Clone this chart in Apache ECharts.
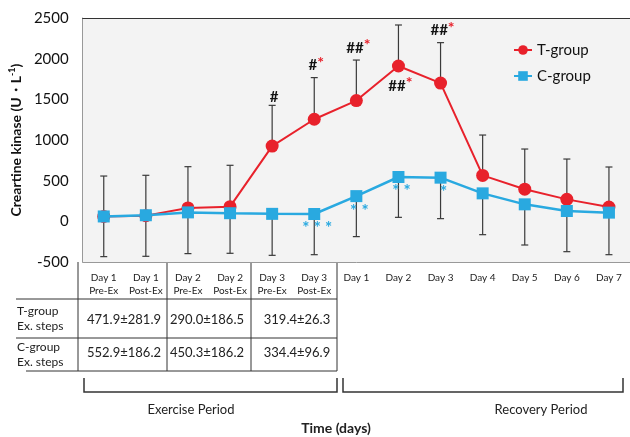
<!DOCTYPE html>
<html>
<head>
<meta charset="utf-8">
<script src="https://cdn.jsdelivr.net/npm/echarts@6/dist/echarts.min.js"></script>
<style>
  html, body { margin: 0; padding: 0; background: #fff; }
  #chart { width: 630px; height: 437px; }
</style>
</head>
<body>
<div id="chart"></div>
<script>
// categories on the time axis
var categories = ['Day 1\nPre-Ex', 'Day 1\nPost-Ex', 'Day 2\nPre-Ex', 'Day 2\nPost-Ex', 'Day 3\nPre-Ex', 'Day 3\nPost-Ex',
    'Day 1', 'Day 2', 'Day 3', 'Day 4', 'Day 5', 'Day 6', 'Day 7'];
var yTicks = [-500, 0, 500, 1000, 1500, 2000, 2500];

// creatine kinase, mean and error bar ends (T up, C down)
var tMean  = [60, 70, 165, 180, 925, 1255, 1485, 1910, 1700, 565, 395, 270, 175];
var tUpper = [557, 566, 672, 689, 1426, 1767, 1983, 2414, 2197, 1061, 889, 766, 668];
var cMean  = [60, 75, 110, 100, 92, 90, 310, 545, 537, 344, 209, 127, 107];
var cLower = [-434, -430, -397, -393, -418, -410, -188, 49, 33, -164, -291, -373, -410];

// significance marks
var tSigAbove = ['', '', '', '', '#', '#*', '##*', '', '##*', '', '', '', ''];
var tSigBelow = ['', '', '', '', '', '', '', '##*', '', '', '', '', ''];
var cSig      = ['', '', '', '', '', '***', '**', '**', '*', '', '', '', ''];

// exercise steps table
var tSteps = ['471.9±281.9', '290.0±186.5', '319.4±26.3'];
var cSteps = ['552.9±186.2', '450.3±186.2', '334.4±96.9'];

var FONT = 'Lato, "Noto Sans", sans-serif';
var RED = '#e8212b';
var BLUE = '#29a9e0';
var INK = '#333';

function sigText(s) {
    var h = s.replace(/\*/g, '');
    var st = s.replace(/#/g, '');
    var out = '';
    if (h) out += '{h|' + h + '}';
    if (st) out += '{s|' + st + '}';
    return out;
}
var sigRich = {
    h: { fill: '#111', fontSize: 15, fontWeight: 'bold', fontFamily: FONT },
    s: { fill: RED, fontSize: 16, fontWeight: 'bold', fontFamily: FONT, verticalAlign: 'top', padding: [0, 0, 6, 0] }
};

function renderBars(params, api) {
    var i = params.dataIndex;
    var pT = api.coord([i, tMean[i]]);
    var pTh = api.coord([i, tUpper[i]]);
    var pC = api.coord([i, cMean[i]]);
    var pCl = api.coord([i, cLower[i]]);
    var cap = 3.5;
    var st = { stroke: '#3a3a3a', lineWidth: 1.2 };
    var kids = [
        { type: 'line', shape: { x1: pT[0], y1: pT[1], x2: pTh[0], y2: pTh[1] }, style: st },
        { type: 'line', shape: { x1: pTh[0] - cap, y1: pTh[1], x2: pTh[0] + cap, y2: pTh[1] }, style: st },
        { type: 'line', shape: { x1: pC[0], y1: pC[1], x2: pCl[0], y2: pCl[1] }, style: st },
        { type: 'line', shape: { x1: pCl[0] - cap, y1: pCl[1], x2: pCl[0] + cap, y2: pCl[1] }, style: st }
    ];
    if (tSigAbove[i]) {
        kids.push({ type: 'text', x: pTh[0] + 2, y: pTh[1] - 1, z2: 10,
            style: { text: sigText(tSigAbove[i]), rich: sigRich, align: 'center', verticalAlign: 'bottom' } });
    }
    if (tSigBelow[i]) {
        kids.push({ type: 'text', x: pT[0] + 2, y: pT[1] + 9, z2: 10,
            style: { text: sigText(tSigBelow[i]), rich: sigRich, align: 'center', verticalAlign: 'top' } });
    }
    if (cSig[i]) {
        kids.push({ type: 'text', x: pC[0] + 3, y: pC[1] + 15, z2: 10,
            style: { text: cSig[i].split('').join(' '), fill: BLUE, font: 'bold 17px ' + FONT, align: 'center', verticalAlign: 'middle' } });
    }
    return { type: 'group', children: kids };
}

var chart = echarts.init(document.getElementById('chart'));

// table + brackets under the axis
var graphics = [];
function hline(x1, x2, y) {
    graphics.push({ type: 'line', shape: { x1: x1, y1: y, x2: x2, y2: y }, style: { stroke: INK, lineWidth: 1 } });
}
function vline(x, y1, y2) {
    graphics.push({ type: 'line', shape: { x1: x, y1: y1, x2: x, y2: y2 }, style: { stroke: INK, lineWidth: 1 } });
}
function txt(x, y, s, font, align) {
    graphics.push({ type: 'text', x: x, y: y, style: { text: s, font: font, fill: '#222', align: align || 'center', verticalAlign: 'middle' } });
}
[78, 167, 251, 337].forEach(function (x) { vline(x, 262, 371); });
hline(16, 337, 299);
hline(16, 337, 338);
hline(26, 337, 371);
var colX = [124, 207, 297];
for (var k = 0; k < colX.length; k++) {
    txt(colX[k], 320, tSteps[k], '13px ' + FONT);
    txt(colX[k], 353, cSteps[k], '13px ' + FONT);
}
txt(17, 311, 'T-group', '12px ' + FONT, 'left');
txt(17, 326, 'Ex. steps', '12px ' + FONT, 'left');
txt(17, 347, 'C-group', '12px ' + FONT, 'left');
txt(17, 362, 'Ex. steps', '12px ' + FONT, 'left');
graphics.push({ type: 'polyline', shape: { points: [[84, 378], [84, 392], [337, 392], [337, 378]] }, style: { stroke: INK, lineWidth: 1.5, fill: null } });
graphics.push({ type: 'polyline', shape: { points: [[343, 378], [343, 392], [623, 392], [623, 378]] }, style: { stroke: INK, lineWidth: 1.5, fill: null } });
txt(191, 410, 'Exercise Period', '13px ' + FONT);
txt(541, 410, 'Recovery Period', '13px ' + FONT);
txt(336, 428, 'Time (days)', 'bold 14px ' + FONT);

var option = {
    backgroundColor: '#fff',
    animation: false,
    textStyle: { fontFamily: FONT },
    grid: { left: 78, right: 0, top: 18, bottom: 175, show: true, backgroundColor: '#f3f3f3', borderWidth: 0 },
    legend: {
        orient: 'vertical', left: 508, top: 36, itemWidth: 18, itemHeight: 12, itemGap: 8,
        textStyle: { fontSize: 15, color: '#111', lineHeight: 18, fontFamily: FONT },
        data: ['T-group', 'C-group']
    },
    xAxis: [{
        type: 'category', data: categories,
        axisLine: { onZero: false, lineStyle: { color: '#999' } },
        axisTick: { show: false },
        axisLabel: { fontSize: 10, color: '#222', margin: 9, lineHeight: 13, interval: 0, verticalAlign: 'top' }
    }, {
        type: 'category', data: categories, position: 'top',
        axisLine: { onZero: false, lineStyle: { color: '#333', width: 1.2 } },
        axisTick: { show: false }, axisLabel: { show: false }
    }],
    yAxis: {
        type: 'value', min: yTicks[0], max: yTicks[yTicks.length - 1], interval: 500,
        axisLine: { show: true, lineStyle: { color: '#999' } },
        axisTick: { show: false },
        splitLine: { show: false },
        axisLabel: { fontSize: 15, color: '#111', margin: 14, formatter: function (v) { return String(v); } },
        name: '{n|Creartine kinase (U・L}{sup|-1}{n|)}',
        nameLocation: 'middle', nameGap: 53, nameRotate: 90,
        nameTextStyle: {
            rich: {
                n: { fontSize: 14, fontWeight: 'bold', color: '#111', fontFamily: FONT },
                sup: { fontSize: 9, fontWeight: 'bold', color: '#111', fontFamily: FONT, verticalAlign: 'top', padding: [0, 0, 7, 0] }
            }
        }
    },
    series: [{
        type: 'custom', name: 'err', renderItem: renderBars, data: categories.map(function (c, i) { return [i]; }),
        z: 1, silent: true
    }, {
        name: 'T-group', type: 'line', data: tMean, z: 3,
        symbol: 'circle', symbolSize: 13,
        itemStyle: { color: RED }, lineStyle: { color: RED, width: 2 }
    }, {
        name: 'C-group', type: 'line', data: cMean, z: 4,
        symbol: 'rect', symbolSize: 12,
        itemStyle: { color: BLUE }, lineStyle: { color: BLUE, width: 2.5 }
    }],
    graphic: graphics
};
chart.setOption(option);
</script>
</body>
</html>
